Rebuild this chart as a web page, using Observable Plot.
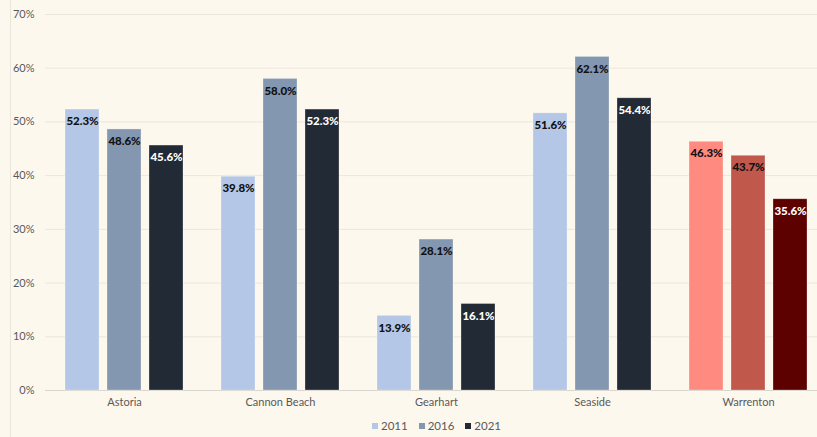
<!DOCTYPE html>
<html>
<head>
<meta charset="utf-8">
<script src="https://cdn.jsdelivr.net/npm/d3@7"></script>
<script src="https://cdn.jsdelivr.net/npm/@observablehq/plot@0.6"></script>
<style>
  html, body { margin: 0; padding: 0; background: #fdf8ed; }
  #wrap { position: relative; width: 817px; height: 437px; overflow: hidden; background: #fdf8ed; }
  #wrap::before { content: ""; position: absolute; left: 10px; top: 0; bottom: 0; border-left: 1px solid #ebe6db; }
  #chart { position: absolute; left: 0; top: 0; }
  #legend { position: absolute; top: 419px; left: 28px; width: 817px; display: flex; justify-content: center; gap: 11px;
            font: 11.5px Lato, sans-serif; color: #595959; }
  #legend span.item { display: inline-flex; align-items: center; gap: 3px; }
  #legend span.sw { display: inline-block; width: 6px; height: 6px; }
</style>
</head>
<body>
<div id="wrap">
  <div id="chart"></div>
  <div id="legend"></div>
</div>
<script>
const towns = ["Astoria", "Cannon Beach", "Gearhart", "Seaside", "Warrenton"];
const years = ["2011", "2016", "2021"];
const v2011 = [52.3, 39.8, 13.9, 51.6, 46.3];
const v2016 = [48.6, 58.0, 28.1, 62.1, 43.7];
const v2021 = [45.6, 52.3, 16.1, 54.4, 35.6];
const yTicks = [0, 10, 20, 30, 40, 50, 60, 70];

const series = [v2011, v2016, v2021];
const rows = [];
years.forEach((yr, i) => towns.forEach((t, j) => rows.push({town: t, year: yr, yi: i, value: series[i][j]})));

const blue = ["#b4c7e7", "#8497b0", "#222a35"];
const red = ["#ff8a80", "#c0584c", "#5c0000"];
const labelColor = ["#111111", "#111111", "#ffffff"];
const offsets = [-42, 0, 42];
const fillOf = d => (d.town === "Warrenton" ? red : blue)[d.yi];

const marks = [
  Plot.ruleY(yTicks.filter(v => v > 0), {stroke: "#ebe6dc", strokeWidth: 1}),
  Plot.ruleY([0], {stroke: "#d9d6cf", strokeWidth: 1})
];
years.forEach((yr, i) => {
  const data = rows.filter(r => r.yi === i);
  marks.push(Plot.barY(data, {
    x: "town", y: "value", fill: fillOf, dx: offsets[i],
    insetLeft: 61, insetRight: 61, stroke: "#ffffff", strokeOpacity: 0.35, strokeWidth: 0.8
  }));
  marks.push(Plot.text(data, {
    x: "town", y: "value", dx: offsets[i], dy: 12,
    text: d => d.value.toFixed(1) + "%",
    fill: labelColor[i], fontWeight: 900, fontSize: 11.5
  }));
});

const chart = Plot.plot({
  width: 817,
  height: 412,
  marginTop: 14,
  marginBottom: 22,
  marginLeft: 45,
  marginRight: 0,
  style: {background: "transparent", fontFamily: "Lato, sans-serif", fontSize: "11px", color: "#595959"},
  x: {type: "band", domain: towns, range: [45, 827], padding: 0, tickSize: 0, tickPadding: 8, label: null},
  y: {domain: [0, 70], ticks: yTicks, tickFormat: d => d + "%", tickSize: 0, tickPadding: 11, label: null},
  marks
});
document.getElementById("chart").appendChild(chart);

const legend = document.getElementById("legend");
years.forEach((yr, i) => {
  const item = document.createElement("span");
  item.className = "item";
  const sw = document.createElement("span");
  sw.className = "sw";
  sw.style.background = blue[i];
  item.appendChild(sw);
  item.appendChild(document.createTextNode(yr));
  legend.appendChild(item);
});
</script>
</body>
</html>
